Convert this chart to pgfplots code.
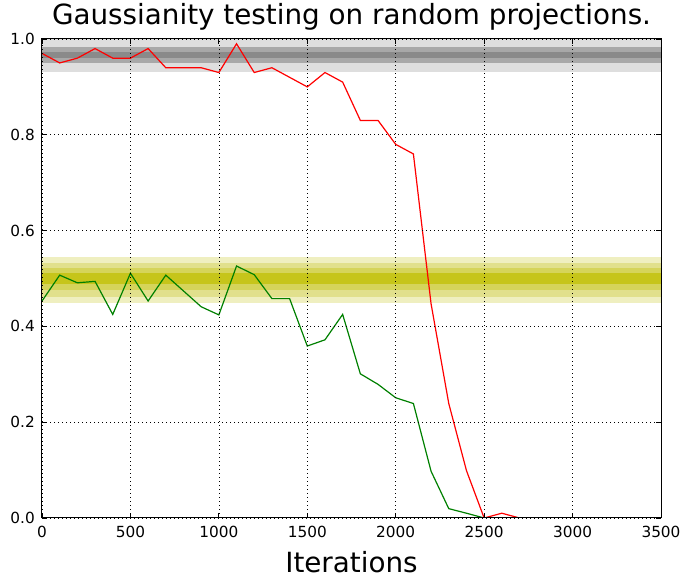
\documentclass[border=0pt]{standalone}
\usepackage{fontspec}
\setmainfont{DejaVu Sans}
\usepackage{pgfplots}
\pgfplotsset{compat=1.18}

\definecolor{gbandA}{RGB}{222,222,222}
\definecolor{gbandB}{RGB}{168,168,168}
\definecolor{gbandC}{RGB}{138,138,138}
\definecolor{ybandA}{RGB}{239,239,192}
\definecolor{ybandB}{RGB}{225,224,140}
\definecolor{ybandC}{RGB}{213,212,90}
\definecolor{ybandD}{RGB}{198,197,26}
\definecolor{mplgreen}{RGB}{0,128,0}

\begin{document}
\begin{tikzpicture}
\useasboundingbox (0,0) rectangle (692bp,587bp);
\begin{axis}[
    at={(42bp,69bp)}, anchor=south west,
    scale only axis, width=619bp, height=479bp,
    xmin=0, xmax=3500, ymin=0, ymax=1,
    xtick={0,500,...,3500},
    ytick={0,0.2,0.4,0.6,0.8,1.0},
    /pgf/number format/assume math mode=true,
    /pgf/number format/1000 sep={},
    yticklabel style={/pgf/number format/fixed, /pgf/number format/fixed zerofill, /pgf/number format/precision=1},
    scaled ticks=false,
    tick label style={font=\fontsize{15.3bp}{18bp}\selectfont, inner sep=0pt},
    xticklabel style={anchor=north, yshift=-8bp},
    yticklabel style={anchor=east, xshift=-7bp},
    tick align=inside, major tick length=5bp,
    every tick/.style={black, line width=0.8bp},
    axis line style={line width=1bp},
    grid=major,
    major grid style={black, line width=0.6bp, dash pattern=on 1bp off 3bp},
    axis on top,
    title={Gaussianity testing on random projections.},
    title style={font=\fontsize{27.8bp}{32bp}\selectfont, at={(0.5,1)}, anchor=base, yshift=9bp, inner sep=0pt},
    xlabel={Iterations},
    xlabel style={font=\fontsize{27.8bp}{32bp}\selectfont, at={(0.5,0)}, anchor=base, yshift=-54bp, inner sep=0pt},
]
% gray confidence bands
\addplot[fill=gbandA, draw=none] coordinates {(0,0.931) (3500,0.931) (3500,1.0) (0,1.0)} -- cycle;
\addplot[fill=gbandB, draw=none] coordinates {(0,0.950) (3500,0.950) (3500,0.984) (0,0.984)} -- cycle;
\addplot[fill=gbandC, draw=none] coordinates {(0,0.961) (3500,0.961) (3500,0.972) (0,0.972)} -- cycle;
% yellow confidence bands
\addplot[fill=ybandA, draw=none] coordinates {(0,0.4495) (3500,0.4495) (3500,0.5455) (0,0.5455)} -- cycle;
\addplot[fill=ybandB, draw=none] coordinates {(0,0.4607) (3500,0.4607) (3500,0.533) (0,0.533)} -- cycle;
\addplot[fill=ybandC, draw=none] coordinates {(0,0.476) (3500,0.476) (3500,0.5226) (0,0.5226)} -- cycle;
\addplot[fill=ybandD, draw=none] coordinates {(0,0.4885) (3500,0.4885) (3500,0.512) (0,0.512)} -- cycle;

\addplot[red, line width=1.2bp, mark=none] coordinates {
    (0,0.97) (100,0.95) (200,0.96) (300,0.98) (400,0.96) (500,0.96)
    (600,0.98) (700,0.94) (800,0.94) (900,0.94) (1000,0.93) (1100,0.99)
    (1200,0.93) (1300,0.94) (1400,0.92) (1500,0.90) (1600,0.93) (1700,0.91)
    (1800,0.83) (1900,0.83) (2000,0.78) (2100,0.76) (2200,0.447) (2300,0.239)
    (2400,0.099) (2500,0.0) (2600,0.01) (2700,0) (2800,0) (2900,0)
    (3000,0) (3100,0) (3200,0) (3300,0) (3400,0)
};
\addplot[mplgreen, line width=1.2bp, mark=none] coordinates {
    (0,0.453) (100,0.507) (200,0.491) (300,0.494) (400,0.425) (500,0.511)
    (600,0.453) (700,0.507) (800,0.474) (900,0.441) (1000,0.424) (1100,0.526)
    (1200,0.508) (1300,0.458) (1400,0.458) (1500,0.359) (1600,0.372) (1700,0.425)
    (1800,0.301) (1900,0.279) (2000,0.251) (2100,0.239) (2200,0.0975) (2300,0.0195)
    (2400,0.01) (2500,0) (2600,0) (2700,0) (2800,0) (2900,0)
    (3000,0) (3100,0) (3200,0) (3300,0) (3400,0)
};
\end{axis}
\end{tikzpicture}
\end{document}
